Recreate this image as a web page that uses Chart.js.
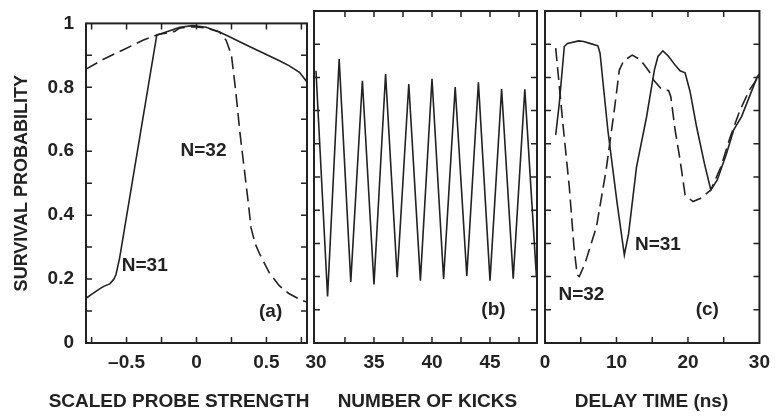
<!DOCTYPE html>
<html>
<head>
<meta charset="utf-8">
<script src="https://cdn.jsdelivr.net/npm/chart.js@4.4.1/dist/chart.umd.min.js"></script>
<style>
    body { margin: 0; background: #fff; }
    #wrap { position: relative; width: 778px; height: 420px; }
    #wrap canvas { position: absolute; left: 0; top: 0; }
</style>
</head>
<body>
<div id="wrap">
    <canvas id="panelA" width="778" height="420"></canvas>
    <canvas id="panelB" width="778" height="420"></canvas>
    <canvas id="panelC" width="778" height="420"></canvas>
</div>
<script>
"use strict";

// (a) survival vs scaled probe strength
const strengthN31 = [-0.79, -0.74, -0.69, -0.66, -0.62, -0.59, -0.575, -0.56, -0.55, -0.284, -0.217, -0.12, -0.026, 0.069, 0.164, 0.236, 0.33, 0.45, 0.593, 0.664, 0.736, 0.79];
const probN31 = [0.14, 0.155, 0.17, 0.178, 0.185, 0.2, 0.215, 0.245, 0.265, 0.963, 0.973, 0.988, 0.993, 0.988, 0.973, 0.958, 0.938, 0.913, 0.883, 0.867, 0.847, 0.817];
const strengthN32 = [-0.79, -0.669, -0.526, -0.383, -0.276, -0.157, -0.12, -0.026, 0.069, 0.164, 0.212, 0.25, 0.28, 0.31, 0.34, 0.37, 0.39, 0.42, 0.45, 0.52, 0.59, 0.66, 0.75, 0.79];
const probN32 = [0.857, 0.887, 0.917, 0.947, 0.965, 0.975, 0.985, 0.99, 0.986, 0.973, 0.947, 0.90, 0.79, 0.66, 0.55, 0.44, 0.36, 0.31, 0.28, 0.22, 0.18, 0.155, 0.134, 0.128];

// (b) survival vs number of kicks
const kicks = [30, 31, 32, 33, 34, 35, 36, 37, 38, 39, 40, 41, 42, 43, 44, 45, 46, 47, 48, 49];
const probKicks = [0.82, 0.14, 0.855, 0.184, 0.79, 0.176, 0.81, 0.198, 0.78, 0.188, 0.796, 0.193, 0.771, 0.202, 0.785, 0.188, 0.765, 0.194, 0.764, 0.2];

// (c) survival vs delay time (ns)
const delayN31 = [1.5, 2.0, 2.7, 3.15, 4.7, 5.4, 6.5, 7.4, 7.7, 8.8, 10.1, 11.1, 11.7, 12.8, 14.2, 15.3, 15.8, 16.5, 17.3, 18.2, 18.9, 19.6, 20.3, 21.2, 22.3, 23.2, 24.1, 25.4, 26.4, 27.5, 28.6, 29.7, 30];
const probDelayN31 = [0.627, 0.722, 0.893, 0.902, 0.91, 0.908, 0.901, 0.895, 0.873, 0.64, 0.42, 0.265, 0.33, 0.53, 0.68, 0.822, 0.863, 0.88, 0.863, 0.837, 0.82, 0.814, 0.757, 0.652, 0.541, 0.461, 0.491, 0.571, 0.642, 0.682, 0.742, 0.802, 0.81];
const delayN32 = [1.5, 2.5, 3.4, 4.05, 4.5, 4.8, 5.6, 7.2, 8.55, 9.7, 10.4, 11.0, 12.2, 13.3, 14.6, 15.1, 16.2, 17.3, 17.6, 18.2, 18.9, 19.6, 20.7, 21.8, 23.2, 24.6, 25.9, 27.3, 28.6, 29.7, 30];
const probDelayN32 = [0.888, 0.661, 0.47, 0.29, 0.205, 0.2, 0.24, 0.35, 0.521, 0.702, 0.822, 0.85, 0.867, 0.854, 0.817, 0.794, 0.767, 0.76, 0.742, 0.642, 0.551, 0.446, 0.426, 0.436, 0.461, 0.53, 0.62, 0.702, 0.762, 0.797, 0.81];

// tick labels and tick marks
const yTicks = [0, 0.2, 0.4, 0.6, 0.8, 1];
const yMarks = [0.1, 0.2, 0.3, 0.4, 0.5, 0.6, 0.7, 0.8, 0.9];
const xTicksA = [-0.5, 0, 0.5];
const xMarksA = [-0.75, -0.5, -0.25, 0, 0.25, 0.5, 0.75];
const xTicksB = [30, 35, 40, 45];
const xMarksB = [32.5, 35, 37.5, 40, 42.5, 45, 47.5];
const xTicksC = [0, 10, 20, 30];
const xMarksC = [5, 10, 15, 20, 25];

const ink = '#222';
const FONT = 'bold 19px "Liberation Sans", Arial, sans-serif';
const tickFont = { family: '"Liberation Sans", Arial', size: 19, weight: 'bold' };
const zip = (xs, ys) => xs.map((x, i) => ({ x, y: ys[i] }));
const fmt = v => v < 0 ? '\u2013' + Math.abs(v) : String(v);

// closed box, inward ticks, panel texts and the x title
const framePlugin = {
    id: 'frame',
    afterDraw(chart, args, o) {
        const { ctx, chartArea: a, scales: { x, y } } = chart;
        ctx.save();
        ctx.strokeStyle = ink;
        ctx.lineWidth = 2;
        ctx.strokeRect(a.left, a.top, a.right - a.left, a.bottom - a.top);
        ctx.lineWidth = 1.5;
        ctx.beginPath();
        o.xMarks.forEach(v => {
            const px = x.getPixelForValue(v);
            ctx.moveTo(px, a.bottom); ctx.lineTo(px, a.bottom - 6);
            ctx.moveTo(px, a.top); ctx.lineTo(px, a.top + 6);
        });
        yMarks.forEach(v => {
            const py = y.getPixelForValue(v);
            ctx.moveTo(a.left, py); ctx.lineTo(a.left + 6, py);
            ctx.moveTo(a.right, py); ctx.lineTo(a.right - 6, py);
        });
        ctx.stroke();
        ctx.fillStyle = ink;
        ctx.font = FONT;
        ctx.textAlign = 'center';
        ctx.textBaseline = 'middle';
        o.notes.forEach(n => ctx.fillText(n.text, x.getPixelForValue(n.x), y.getPixelForValue(n.y)));
        ctx.fillText(o.title, x.getPixelForValue(o.titleAt), a.bottom + 59);
        ctx.restore();
    }
};

function makePanel(id, datasets, xr, xTicks, pad, frame, yOpts) {
    return new Chart(document.getElementById(id), {
        type: 'line',
        data: {
            datasets: datasets.map(d => ({
                data: d.data, borderColor: ink, borderWidth: 1.6, borderDash: d.dash || [],
                pointRadius: 0, tension: 0, fill: false
            }))
        },
        options: {
            responsive: false, animation: false, devicePixelRatio: 1,
            layout: { padding: pad },
            plugins: { legend: { display: false }, tooltip: { enabled: false }, frame },
            scales: {
                x: {
                    type: 'linear', min: xr[0], max: xr[1],
                    grid: { display: false, drawTicks: false }, border: { display: false },
                    afterBuildTicks: s => { s.ticks = xTicks.map(v => ({ value: v })); },
                    afterFit: s => { s.height = 77; },
                    ticks: { autoSkip: false, maxRotation: 0, padding: 8, color: ink, font: tickFont, callback: fmt }
                },
                y: Object.assign({
                    min: 0, max: 1, display: false,
                    grid: { display: false, drawTicks: false }, border: { display: false }
                }, yOpts || {})
            }
        },
        plugins: [framePlugin]
    });
}

makePanel('panelA',
    [{ data: zip(strengthN31, probN31) }, { data: zip(strengthN32, probN32), dash: [13, 6] }],
    [-0.79, 0.79], xTicksA, { top: 11, left: 0, right: 471, bottom: 0 },
    {
        xMarks: xMarksA, title: 'SCALED PROBE STRENGTH', titleAt: -0.125,
        notes: [{ text: 'N=32', x: 0.05, y: 0.6 }, { text: 'N=31', x: -0.37, y: 0.241 }, { text: '(a)', x: 0.53, y: 0.097 }]
    },
    {
        display: true,
        afterBuildTicks: s => { s.ticks = yTicks.map(v => ({ value: v })); },
        afterFit: s => { s.width = 86; },
        ticks: { padding: 12, color: ink, font: tickFont, callback: fmt },
        title: { display: true, text: 'SURVIVAL PROBABILITY', color: ink, padding: { top: 11 }, font: { family: '"Liberation Sans", Arial', size: 18, weight: 'bold' } }
    });

makePanel('panelB',
    [{ data: zip(kicks, probKicks) }],
    [29.83, 49.05], xTicksB, { top: 11, left: 314, right: 241, bottom: 0 },
    { xMarks: xMarksB, title: 'NUMBER OF KICKS', titleAt: 39.6, notes: [{ text: '(b)', x: 45.3, y: 0.1 }] });

makePanel('panelC',
    [{ data: zip(delayN31, probDelayN31) }, { data: zip(delayN32, probDelayN32), dash: [13, 6] }],
    [0, 30], xTicksC, { top: 11, left: 545, right: 11, bottom: 0 },
    {
        xMarks: xMarksC, title: 'DELAY TIME (ns)', titleAt: 14.9,
        notes: [{ text: 'N=31', x: 15.8, y: 0.295 }, { text: 'N=32', x: 5.1, y: 0.145 }, { text: '(c)', x: 22.7, y: 0.1 }]
    });
</script>
</body>
</html>
